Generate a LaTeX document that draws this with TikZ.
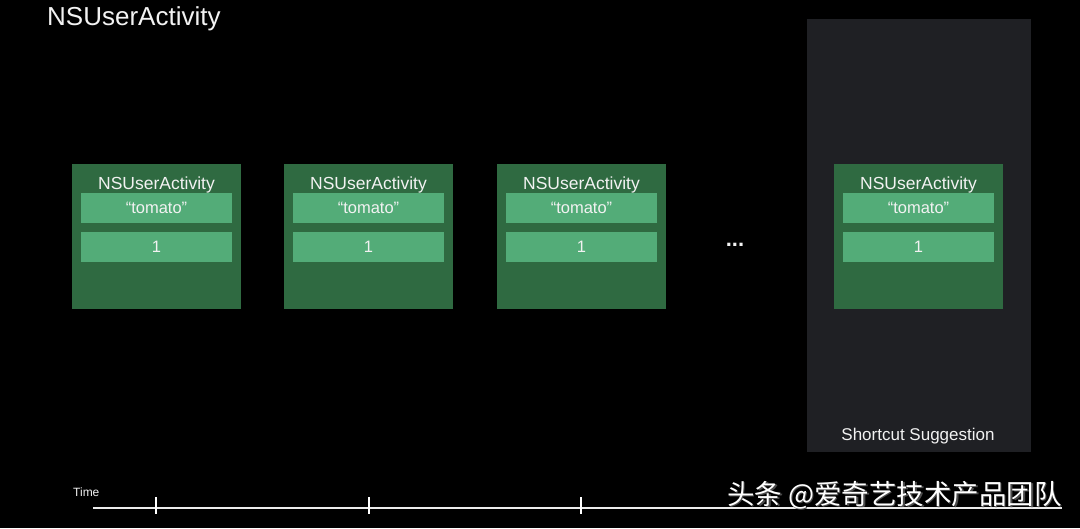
\documentclass[tikz,border=0pt]{standalone}
\usepackage{fontspec}
\setmainfont{Liberation Sans}
\newfontfamily\cjk{Noto Sans CJK SC}
\begin{document}
\begin{tikzpicture}[x=1pt,y=-1pt,
  card/.style={fill=cardgreen,draw=none,minimum width=169pt,minimum height=145pt,anchor=north west,inner sep=0pt},
  bar/.style={fill=bargreen,draw=none,minimum width=151pt,minimum height=30pt,inner sep=0pt,text=txtwhite,font=\fontsize{16.5}{18}\selectfont},
  ctitle/.style={text=txtwhite,font=\fontsize{17.5}{19}\selectfont,inner sep=0pt},
  tick/.style={draw=white,line width=1.8pt}]
\definecolor{cardgreen}{HTML}{2F6A41}
\definecolor{bargreen}{HTML}{53AC78}
\definecolor{txtwhite}{HTML}{F2F2F2}
\definecolor{panel}{HTML}{1F2024}
\fill[black] (0,0) rectangle (1080,528);
\useasboundingbox (0,0) rectangle (1080,528);
% title
\node[anchor=west,text=txtwhite,font=\fontsize{26}{30}\selectfont,inner sep=0pt] (title) at (47,18.5) {NSUserActivity};
% shortcut panel
\node[fill=panel,anchor=north west,minimum width=224pt,minimum height=433pt,inner sep=0pt] (panel) at (807,19) {};
\node[text=txtwhite,font=\fontsize{17}{19}\selectfont,inner sep=0pt] (sslabel) at (918,436) {Shortcut Suggestion};
% cards
\foreach \i/\x in {1/72,2/284,3/497,4/834}{
  \node[card] (card\i) at (\x,164) {};
  \node[ctitle] (ct\i) at (\x+84.5,184.5) {NSUserActivity};
  \node[bar] (b\i a) at (\x+84.5,208) {“tomato”};
  \node[bar] (b\i b) at (\x+84.5,247) {1};
}
\node[text=txtwhite,font=\bfseries\fontsize{22}{24}\selectfont,inner sep=0pt] (dots) at (735,245) {...};
% timeline
\coordinate (tstart) at (93,508);
\coordinate (tend) at (1062,508);
\draw[white!92!black,line width=2.4pt] (tstart) -- (tend);
\foreach \x/\n in {156/1,369/2,581/3}{
  \coordinate (tk\n top) at (\x,497);
  \coordinate (tk\n bot) at (\x,514);
  \draw[tick] (tk\n top) -- (tk\n bot);
}
\node[anchor=west,text=txtwhite,font=\fontsize{12}{14}\selectfont,inner sep=0pt] (time) at (73,492) {Time};
% watermark
\node[anchor=west,text=black!70,font=\cjk\fontsize{27.5}{30}\selectfont,inner sep=0pt] (wmshadow) at (728.5,496.5) {头条 @爱奇艺技术产品团队};
\node[anchor=west,text=white,font=\cjk\fontsize{27.5}{30}\selectfont,inner sep=0pt] (wm) at (727,495) {头条 @爱奇艺技术产品团队};
\end{tikzpicture}
\end{document}
